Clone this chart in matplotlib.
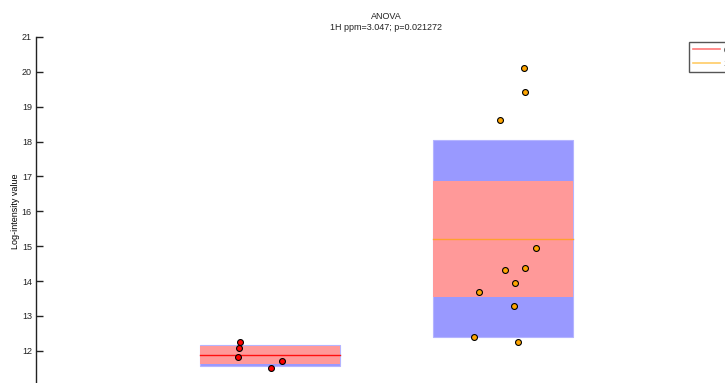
import numpy as np
import matplotlib
matplotlib.use("Agg")
import matplotlib.pyplot as plt
from matplotlib.patches import Rectangle
from matplotlib.lines import Line2D

plt.rcParams['font.family'] = ['Liberation Sans', 'DejaVu Sans']

# Groups and their log-intensity values
groups = ["0", "1"]
values_0 = [12.26, 12.09, 11.81, 11.71, 11.51]
values_1 = [20.12, 19.43, 18.62, 14.94, 14.33, 14.38, 13.95, 13.69, 13.27, 12.40, 12.24]
# horizontal jitter of the individual points
jitter_0 = [-0.127, -0.130, -0.136, 0.053, 0.006]
jitter_1 = [0.090, 0.092, -0.015, 0.139, 0.006, 0.092, 0.048, -0.106, 0.045, -0.124, 0.064]

yticks = list(range(11, 22))
title = "ANOVA\n1H ppm=3.047; p=0.021272"
ylabel = "Log-intensity value"

point_colors = ["#ff0000", "#ffa500"]
line_colors = ["#ff1010", "#ffa030"]
legend_colors = ["#ff7878", "#ffcc66"]
sd_color = "#9999ff"
ci_color = "#ff9999"

fig = plt.figure(figsize=(7.25, 3.83), dpi=100)
ax = fig.add_axes([36 / 725, -2.6 / 383, 701 / 725, 348.6 / 383])

box_w = 0.6
for i, (vals, jit) in enumerate([(values_0, jitter_0), (values_1, jitter_1)]):
    pos = i + 1
    v = np.asarray(vals)
    mean = v.mean()
    sd = v.std(ddof=1)
    ci = 1.96 * sd / np.sqrt(len(v))
    ax.add_patch(Rectangle((pos - box_w / 2, mean - sd), box_w, 2 * sd,
                           facecolor=sd_color, edgecolor="#b4b4ff", lw=0.8, zorder=1))
    ax.add_patch(Rectangle((pos - box_w / 2, mean - ci), box_w, 2 * ci,
                           facecolor=ci_color, edgecolor="none", zorder=2))
    ax.plot([pos - box_w / 2, pos + box_w / 2], [mean, mean],
            color=line_colors[i], lw=1.0, zorder=3)
    ax.scatter(pos + np.asarray(jit), v, s=18, c=point_colors[i],
               edgecolors="black", linewidths=0.8, zorder=4)

ax.set_xlim(0, 3)
ax.set_ylim(11, 21)
ax.set_yticks(yticks)
ax.set_xticks([])
ax.tick_params(axis="y", direction="in", length=5, width=1.0,
               labelsize=6.5, pad=3, colors="#222222")
for side in ("top", "right", "bottom"):
    ax.spines[side].set_visible(False)
ax.spines["left"].set_linewidth(1.0)
ax.spines["left"].set_color("#222222")

ax.set_ylabel(ylabel, fontsize=6.5, labelpad=1)
ax.set_title(title, fontsize=6.5, pad=5, linespacing=1.25, color="#222222")

handles = [Line2D([], [], color=c, lw=1.2) for c in legend_colors]
fig.legend(handles, groups, loc="upper left",
           bbox_to_anchor=(689 / 725, 1 - 41.5 / 383), borderaxespad=0,
           fontsize=6.5, handlelength=3.0, handletextpad=0.4,
           borderpad=0.45, labelspacing=0.5, fancybox=False,
           edgecolor="#555555", framealpha=1)

fig.savefig("out.png", dpi=100)
